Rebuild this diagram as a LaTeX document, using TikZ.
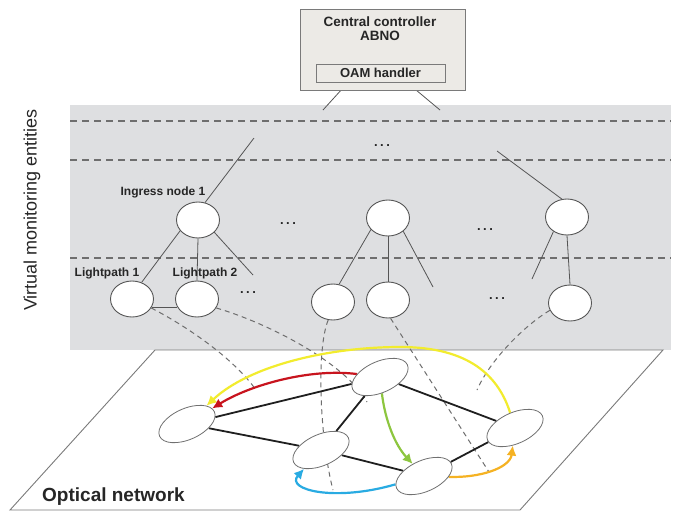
\documentclass[tikz,border=0pt]{standalone}
\usepackage{fontspec}
\setmainfont{Liberation Sans}
\usetikzlibrary{shapes.geometric,arrows.meta}
\definecolor{bandgray}{HTML}{DEDFE1}
\definecolor{boxfill}{HTML}{ECEAE6}
\definecolor{boxborder}{HTML}{7A7A7A}
\definecolor{dashgray}{HTML}{6E6E6E}
\definecolor{linegray}{HTML}{555555}
\definecolor{nodegray}{HTML}{707070}
\definecolor{txtgray}{HTML}{262626}
\definecolor{ayellow}{HTML}{F2EC2E}
\definecolor{ared}{HTML}{C8141E}
\definecolor{agreen}{HTML}{8DC63F}
\definecolor{aorange}{HTML}{F5B223}
\definecolor{ablue}{HTML}{29ABE2}
\pgfdeclarelayer{back}
\pgfdeclarelayer{mid}
\pgfsetlayers{back,mid,main}
\tikzset{
  tnode/.style={ellipse, draw=linegray, fill=white, line width=0.9pt, minimum width=43pt, minimum height=36pt, inner sep=0pt},
  onode/.style={ellipse, draw=nodegray, fill=white, line width=0.8pt, minimum width=60pt, minimum height=31pt, inner sep=0pt, rotate=24},
  tline/.style={draw=linegray, line width=0.8pt},
  hdash/.style={draw=dashgray, line width=1.3pt, dash pattern=on 7pt off 5pt},
  cdash/.style={draw=dashgray, line width=1pt, dash pattern=on 5pt off 4pt},
  olink/.style={draw=black!88, line width=1.8pt},
  carrow/.style={line width=2.2pt, -{Latex[length=10pt,width=10pt]}},
  lbl/.style={text=txtgray, font=\fontsize{12}{14}\selectfont\bfseries, inner sep=0pt},
  dotsl/.style={text=txtgray, font=\fontsize{13}{14}\selectfont\bfseries, inner sep=0pt}
}
\begin{document}
\begin{tikzpicture}[x=1pt,y=-1pt]
\useasboundingbox (0,0) rectangle (675,512);

% ---------- nodes ----------
\node[draw=boxborder, fill=boxfill, line width=0.9pt, minimum width=165pt, minimum height=81pt, anchor=north west, inner sep=0pt] (ctrl) at (300,9) {};
\node[text=txtgray, font=\fontsize{13.5}{14}\selectfont\bfseries, align=center, inner sep=0pt] (ctrltxt) at (380,28.5) {Central controller\\ABNO};
\node[draw=boxborder, fill=boxfill, line width=0.9pt, minimum width=129pt, minimum height=18pt, inner sep=0pt, text=txtgray, font=\fontsize{13}{14}\selectfont\bfseries] (oam) at (380.5,73) {OAM handler};

\node[tnode] (ing1) at (198,220) {};
\node[tnode] (ing2) at (388,218) {};
\node[tnode] (ing3) at (567,217) {};
\node[tnode] (lp1) at (132,299) {};
\node[tnode] (lp2) at (197,299) {};
\node[tnode] (lp3) at (333,302) {};
\node[tnode] (lp4) at (388,300) {};
\node[tnode] (lp5) at (570,303) {};

\node[onode] (n1) at (187,424) {};
\node[onode] (n2) at (321,450) {};
\node[onode] (n3) at (380,377) {};
\node[onode] (n4) at (515,428) {};
\node[onode] (n5) at (424,476) {};

\coordinate (oa) at (323,110);
\coordinate (ob) at (440,110);
\coordinate (u1) at (254,138);
\coordinate (u3) at (497,151);
\coordinate (d1) at (253,275);
\coordinate (d2) at (433,287);
\coordinate (d3) at (532,279);
\coordinate (e1) at (256,390);
\coordinate (e2) at (367,402);
\coordinate (e3) at (333,490);
\coordinate (e4) at (489,472);
\coordinate (e5) at (477,390);

% ---------- labels ----------
\node[lbl] (tING) at (163,192) {Ingress node 1};
\node[lbl] (tLP1) at (107,273) {Lightpath 1};
\node[lbl] (tLP2) at (205,273) {Lightpath 2};
\node[dotsl] (dt1) at (382,146) {.\kern2.5pt.\kern2.5pt.};
\node[dotsl] (dt2) at (288,224) {.\kern2.5pt.\kern2.5pt.};
\node[dotsl] (dt3) at (485,230) {.\kern2.5pt.\kern2.5pt.};
\node[dotsl] (dt4) at (248,293) {.\kern2.5pt.\kern2.5pt.};
\node[dotsl] (dt5) at (497,299) {.\kern2.5pt.\kern2.5pt.};
\node[rotate=90, text=txtgray, font=\fontsize{18}{20}\selectfont, inner sep=0pt] (vme) at (32,210) {Virtual monitoring entities};
\node[anchor=west, text=txtgray, font=\fontsize{19}{20}\selectfont\bfseries, inner sep=0pt] (optnet) at (42,497) {Optical network};

% ---------- background: plane and band ----------
\begin{pgfonlayer}{back}
\fill[bandgray] (70,105) rectangle (671,349.5);
\draw[draw=boxborder, line width=0.9pt, fill=white] (155,350) -- (663,350) -- (520,510) -- (10,510) -- cycle;
\draw[hdash] (70,121) -- (671,121);
\draw[hdash] (70,160) -- (671,160);
\draw[hdash] (70,258) -- (671,258);
\end{pgfonlayer}

% ---------- connectors ----------
\begin{pgfonlayer}{mid}
% controller to band
\draw[tline] ([xshift=-32.5pt]oam.south) -- (oa);
\draw[tline] ([xshift=26.5pt]oam.south) -- (ob);
% tree
\draw[tline] (ing1.68) -- (u1);
\draw[tline] (ing3.106) -- (u3);
\draw[tline] (ing1.211) -- (lp1.60);
\draw[tline] (ing1.south) -- (lp2.north);
\draw[tline] (ing1.-37) -- (d1);
\draw[tline] (ing2.214) -- (lp3.71);
\draw[tline] (ing2.south) -- (lp4.north);
\draw[tline] (ing2.-41) -- (d2);
\draw[tline] (ing3.227) -- (d3);
\draw[tline] (ing3.south) -- (lp5.north);
\draw[tline] (lp1.-22) -- (lp2.202);
% dashed mappings
\draw[cdash] (lp1.-25) .. controls (190,328) and (235,360) .. (e1);
\draw[cdash] (lp2.-25) .. controls (265,322) and (345,362) .. (e2);
\draw[cdash] (lp3.255) .. controls (316,350) and (320,440) .. (e3);
\draw[cdash] (lp4.-82) -- (e4);
\draw[cdash] (lp5.200) .. controls (525,325) and (490,360) .. (e5);
% optical links
\draw[olink] (n1) -- (n3);
\draw[olink] (n1) -- (n2);
\draw[olink] (n2) -- (n3);
\draw[olink] (n3) -- (n4);
\draw[olink] (n2) -- (n5);
\draw[olink] (n5) -- (n4);
% coloured arrows
\draw[carrow, ayellow] (n4) .. controls (495,365) and (455,347) .. (400,347) .. controls (330,347) and (250,365) .. (n1);
\draw[carrow, ared] (n3) .. controls (310,368) and (250,385) .. (n1);
\draw[carrow, agreen] (n3) .. controls (385,420) and (395,445) .. (n5);
\draw[carrow, aorange] (n5) .. controls (480,478) and (510,468) .. (n4);
\draw[carrow, ablue] (n5) .. controls (335,502) and (285,490) .. (n2);
\end{pgfonlayer}
\end{tikzpicture}
\end{document}
